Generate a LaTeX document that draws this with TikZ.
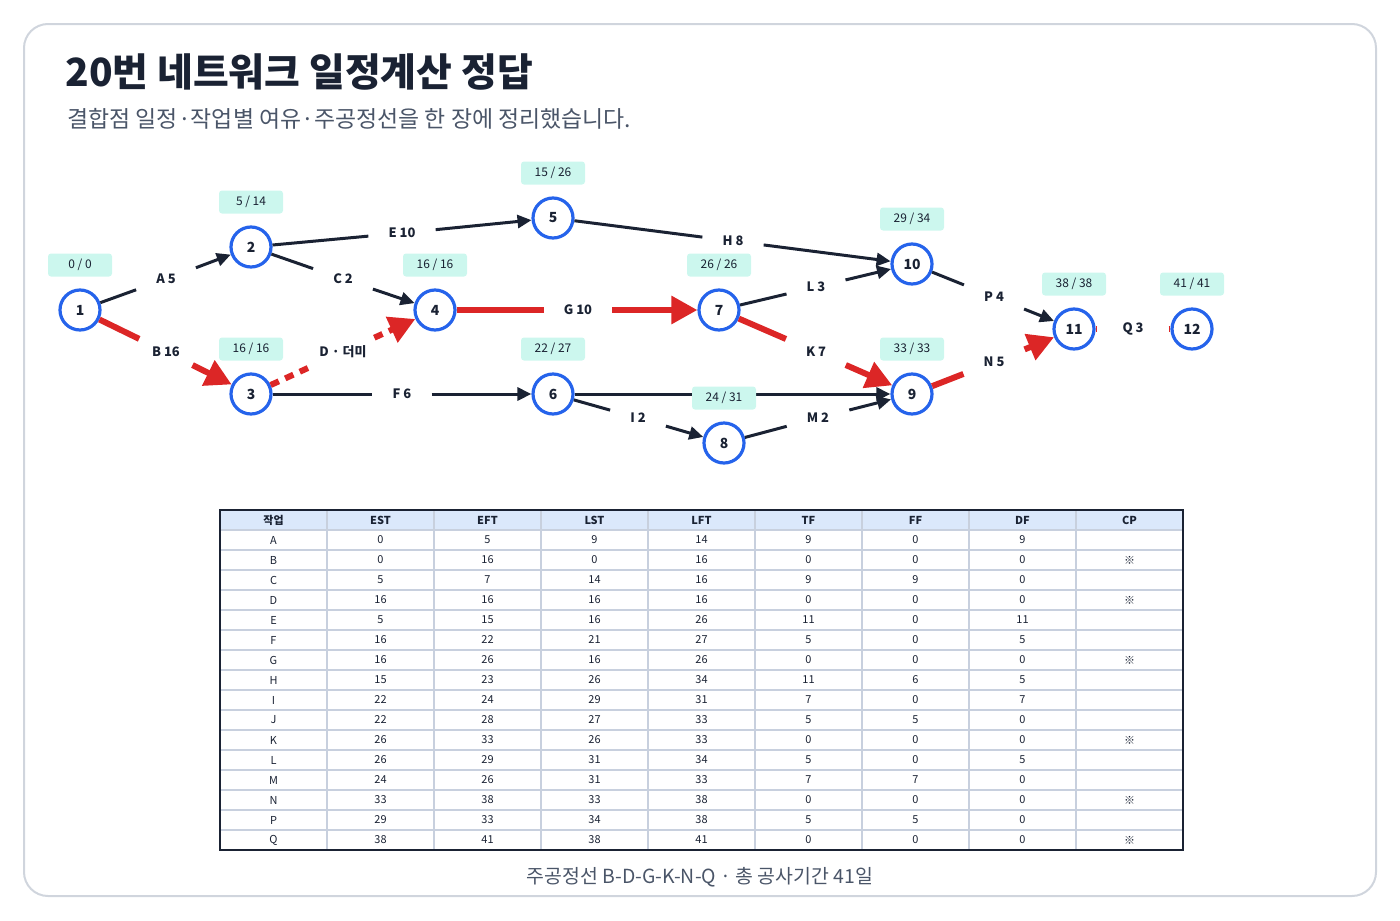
\documentclass[tikz,border=0pt]{standalone}
\usepackage{fontspec}
\setmainfont{Noto Sans CJK KR}
\usetikzlibrary{arrows.meta}
\definecolor{ink}{HTML}{1A2233}
\definecolor{crit}{HTML}{DC2626}
\definecolor{nodeb}{HTML}{2563EB}
\definecolor{mint}{HTML}{CCF7EE}
\definecolor{hdr}{HTML}{DBE8FB}
\definecolor{gridc}{HTML}{C8D0DE}
\definecolor{frame}{HTML}{D0D5DD}
\definecolor{sub}{HTML}{4A5568}
\begin{document}
\begin{tikzpicture}[x=1bp,y=-1bp,
  ev/.style={circle,draw=nodeb,line width=3.2bp,fill=white,minimum size=40bp,inner sep=0pt,font=\fontsize{14}{16}\selectfont\bfseries,text=ink},
  tb/.style={fill=mint,rounded corners=3bp,minimum width=64bp,minimum height=23bp,inner sep=0pt,font=\fontsize{12}{14}\selectfont,text=ink},
  el/.style={inner xsep=20bp,inner ysep=8bp,font=\fontsize{13}{15}\selectfont\bfseries,text=ink},
  nrm/.style={draw=ink,line width=3bp},
  nar/.style={nrm,-{Triangle[length=14bp,width=13bp]}},
  crt/.style={draw=crit,line width=6bp},
  car/.style={crt,-{Triangle[length=26bp,width=27bp]}},
  cell/.style={font=\fontsize{11}{13}\selectfont,text=ink}]
\useasboundingbox (0,0) rectangle (1400,920);
\draw[frame,line width=2bp,rounded corners=24bp] (24,24) rectangle (1376,896);
\node[anchor=west,font=\fontsize{39}{44}\selectfont\bfseries,text=ink] (title) at (62,72) {20번 네트워크 일정계산 정답};
\node[anchor=west,font=\fontsize{23}{26}\selectfont,text=sub] (subt) at (64,119) {결합점 일정·작업별 여유·주공정선을 한 장에 정리했습니다.};
% time boxes
\node[tb] (t1) at (80,265) {0 / 0};
\node[tb] (t2) at (251,202) {5 / 14};
\node[tb] (t3) at (251,349) {16 / 16};
\node[tb] (t4) at (435,265) {16 / 16};
\node[tb] (t5) at (553,173) {15 / 26};
\node[tb] (t6) at (553,349) {22 / 27};
\node[tb] (t7) at (719,265) {26 / 26};
\node[tb] (t9) at (912,349) {33 / 33};
\node[tb] (t10) at (912,219) {29 / 34};
\node[tb] (t11) at (1074,284) {38 / 38};
\node[tb] (t12) at (1192,284) {41 / 41};
% events
\node[ev] (n1) at (80,310) {1};
\node[ev] (n2) at (251,247) {2};
\node[ev] (n3) at (251,394) {3};
\node[ev] (n4) at (435,310) {4};
\node[ev] (n5) at (553,218) {5};
\node[ev] (n6) at (553,394) {6};
\node[ev] (n7) at (719,310) {7};
\node[ev] (n8) at (724,443) {8};
\node[ev] (n9) at (912,394) {9};
\node[ev] (n10) at (912,264) {10};
\node[ev] (n11) at (1074,329) {11};
\node[ev] (n12) at (1192,329) {12};
% labels
\node[el] (eA) at (166,279) {A 5};
\node[el] (eB) at (166,352) {B 16};
\node[el] (eC) at (343,279) {C 2};
\node[el] (eD) at (343,352) {D · 더미};
\node[el] (eE) at (402,233) {E 10};
\node[el] (eF) at (402,394) {F 6};
\node[el] (eG) at (578,310) {G 10};
\node[el] (eH) at (733,241) {H 8};
\node[el] (eI) at (638,418) {I 2};
\node[el] (eK) at (816,352) {K 7};
\node[el] (eL) at (816,287) {L 3};
\node[el] (eM) at (818,418) {M 2};
\node[el] (eN) at (994,362) {N 5};
\node[el] (eP) at (994,297) {P 4};
\node[el,inner xsep=25bp] (eQ) at (1133,329) {Q 3};
% edges
\draw[nrm] (n1) -- (eA); \draw[nar] (eA) -- (n2);
\draw[crt] (n1) -- (eB); \draw[car] (eB) -- (n3);
\draw[nrm] (n2) -- (eC); \draw[nar] (eC) -- (n4);
\draw[crt,dash pattern=on 9bp off 7bp] (n3) -- (eD); \draw[car,dash pattern=on 9bp off 7bp] (eD) -- (n4);
\draw[nrm] (n2) -- (eE); \draw[nar] (eE) -- (n5);
\draw[nrm] (n3) -- (eF); \draw[nar] (eF) -- (n6);
\draw[crt] (n4) -- (eG); \draw[car] (eG) -- (n7);
\draw[nrm] (n5) -- (eH); \draw[nar] (eH) -- (n10);
\draw[nrm] (n6) -- (eI); \draw[nar] (eI) -- (n8);
\draw[nar] (n6) -- (n9);
\draw[crt] (n7) -- (eK); \draw[car] (eK) -- (n9);
\draw[nrm] (n7) -- (eL); \draw[nar] (eL) -- (n10);
\draw[nrm] (n8) -- (eM); \draw[nar] (eM) -- (n9);
\draw[crt] (n9) -- (eN); \draw[car] (eN) -- (n11);
\draw[nrm] (n10) -- (eP); \draw[nar] (eP) -- (n11);
\draw[crt] (n11) -- (eQ); \draw[crt] (eQ) -- (n12);
\node[tb] (t8) at (724,398) {24 / 31};
% table
\fill[hdr] (220,510) rectangle (1183,530);
\foreach \i in {1,...,16} \draw[gridc,line width=1.5bp] (220,{510+20*\i}) -- (1183,{510+20*\i});
\foreach \i in {1,...,8} \draw[gridc,line width=1.5bp] ({220+107*\i},510) -- ({220+107*\i},850);
\draw[ink,line width=1.5bp] (220,510) rectangle (1183,850);
\foreach [count=\c] \h in {작업,EST,EFT,LST,LFT,TF,FF,DF,CP}
  \node[cell,font=\fontsize{11}{13}\selectfont\bfseries] at ({220+107*\c-53.5},520) {\h};
\foreach [count=\r] \row in {
 {A,0,5,9,14,9,0,9,},{B,0,16,0,16,0,0,0,※},{C,5,7,14,16,9,9,0,},{D,16,16,16,16,0,0,0,※},
 {E,5,15,16,26,11,0,11,},{F,16,22,21,27,5,0,5,},{G,16,26,16,26,0,0,0,※},{H,15,23,26,34,11,6,5,},
 {I,22,24,29,31,7,0,7,},{J,22,28,27,33,5,5,0,},{K,26,33,26,33,0,0,0,※},{L,26,29,31,34,5,0,5,},
 {M,24,26,31,33,7,7,0,},{N,33,38,33,38,0,0,0,※},{P,29,33,34,38,5,5,0,},{Q,38,41,38,41,0,0,0,※}}
 {\foreach [count=\c] \v in \row
   \node[cell] at ({220+107*\c-53.5},{520+20*\r}) {\v};}
\node[font=\fontsize{19.5}{22}\selectfont,text=sub] (foot) at (700,877) {주공정선 B-D-G-K-N-Q · 총 공사기간 41일};
\end{tikzpicture}
\end{document}
